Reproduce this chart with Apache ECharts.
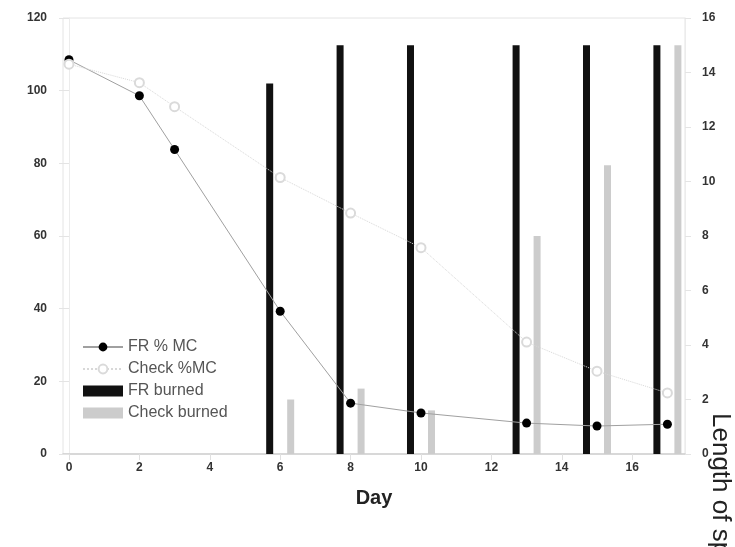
<!DOCTYPE html>
<html>
<head>
<meta charset="utf-8">
<script src="https://cdn.jsdelivr.net/npm/echarts@6/dist/echarts.min.js"></script>
<style>
html,body{margin:0;padding:0;background:#fff;}
#chart{width:735px;height:547px;}
</style>
</head>
<body>
<div id="chart"></div>
<script>
// ---- data ----
var mcDays = [0, 2, 3, 6, 8, 10, 13, 15, 17];
var frMC = [108.5, 98.6, 83.8, 39.3, 14.0, 11.3, 8.5, 7.7, 8.2];
var checkMC = [107.3, 102.2, 95.6, 76.1, 66.3, 56.8, 30.8, 22.8, 16.8];
var burnDays = [6, 8, 10, 13, 15, 17];
var frBurned = [13.6, 15, 15, 15, 15, 15];
var checkBurned = [2.0, 2.4, 1.6, 8.0, 10.6, 15];
var dayTicks = [0, 2, 4, 6, 8, 10, 12, 14, 16];
var seriesNames = ['FR % MC', 'Check %MC', 'FR burned', 'Check burned'];
var xTitle = 'Day';
var rightTitle = 'Length of spread';

function pairs(xs, ys) { return xs.map(function (x, i) { return [x, ys[i]]; }); }

var chart = echarts.init(document.getElementById('chart'), null, {renderer: 'canvas'});
var labelFont = {fontFamily: 'Liberation Sans', fontSize: 12, fontWeight: 'bold', color: '#333'};

chart.setOption({
  animation: false,
  backgroundColor: '#fff',
  grid: {left: 63, right: 50, top: 18, bottom: 93, show: true, borderColor: '#e4e4e4', borderWidth: 1},
  legend: {
    orient: 'vertical', left: 77, top: 334,
    itemWidth: 40, itemHeight: 11, itemGap: 6,
    textStyle: {fontFamily: 'Liberation Sans', fontSize: 16, color: '#555'},
    data: [
      {name: seriesNames[0]},
      {name: seriesNames[1]},
      {name: seriesNames[2], icon: 'rect'},
      {name: seriesNames[3], icon: 'rect'}
    ]
  },
  xAxis: {
    type: 'value', min: -0.17, max: 17.5,
    name: xTitle, nameLocation: 'middle', nameGap: 34,
    nameTextStyle: {fontFamily: 'Liberation Sans', fontSize: 20, fontWeight: 'bold', color: '#222'},
    axisLine: {show: true, lineStyle: {color: '#cfcfcf', width: 1.5}},
    axisTick: {show: true, length: 6, lineStyle: {color: '#e0e0e0'}, customValues: dayTicks},
    axisLabel: Object.assign({margin: 8, customValues: dayTicks}, labelFont),
    splitLine: {show: false}
  },
  yAxis: [{
    type: 'value', min: 0, max: 120, interval: 20,
    axisLine: {show: true, lineStyle: {color: '#ececec'}},
    axisTick: {show: true, length: 10, lineStyle: {color: '#e4e4e4'}},
    axisLabel: Object.assign({margin: 16}, labelFont),
    splitLine: {show: false}
  }, {
    type: 'value', min: 0, max: 16, interval: 2, position: 'right',
    axisLine: {show: true, lineStyle: {color: '#ececec'}},
    axisTick: {show: true, length: 6, lineStyle: {color: '#e4e4e4'}},
    axisLabel: Object.assign({margin: 17}, labelFont),
    splitLine: {show: false}
  }],
  graphic: [{
    type: 'text', x: 720, y: 413, rotation: -Math.PI / 2,
    style: {text: rightTitle, fontFamily: 'Liberation Sans', fontSize: 26, fill: '#222', textAlign: 'left', textVerticalAlign: 'middle'}
  }],
  series: [{
    name: seriesNames[0], type: 'line', z: 3,
    data: pairs(mcDays, frMC),
    symbol: 'circle', symbolSize: 9,
    itemStyle: {color: '#000'},
    lineStyle: {color: '#a0a0a0', width: 1}
  }, {
    name: seriesNames[1], type: 'line', z: 4,
    data: pairs(mcDays, checkMC),
    symbol: 'emptyCircle', symbolSize: 9,
    itemStyle: {color: '#dadada', borderWidth: 1},
    lineStyle: {color: '#d8d8d8', width: 1, type: 'dotted'}
  }, {
    name: seriesNames[2], type: 'bar', yAxisIndex: 1, z: 2,
    data: pairs(burnDays, frBurned),
    barWidth: 7, barGap: '200%',
    itemStyle: {color: '#111'}
  }, {
    name: seriesNames[3], type: 'bar', yAxisIndex: 1, z: 2,
    data: pairs(burnDays, checkBurned),
    barWidth: 7, barGap: '200%',
    itemStyle: {color: '#cccccc'}
  }]
});
</script>
</body>
</html>
